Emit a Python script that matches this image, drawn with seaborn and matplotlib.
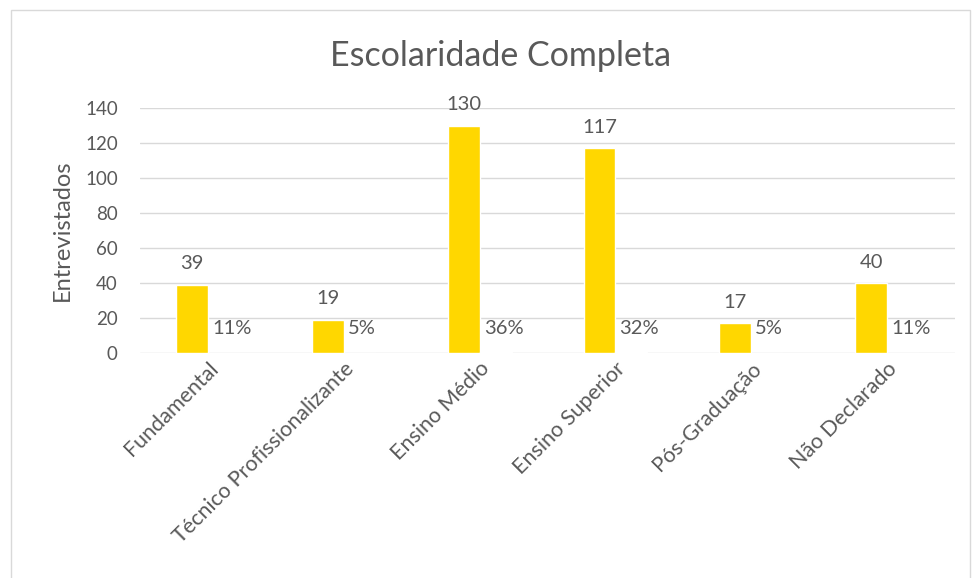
import pandas as pd
import matplotlib
matplotlib.use("Agg")
import matplotlib.pyplot as plt
from matplotlib.patches import Rectangle
import seaborn as sns

categorias = ['Fundamental', 'Técnico Profissionalizante', 'Ensino Médio',
              'Ensino Superior', 'Pós-Graduação', 'Não Declarado']
entrevistados = [39, 19, 130, 117, 17, 40]
percentuais = [0.11, 0.05, 0.36, 0.32, 0.05, 0.11]
rotulos_pct = ['11%', '5%', '36%', '32%', '5%', '11%']

sns.set_theme(style='white')
plt.rcParams['font.family'] = ['Lato', 'DejaVu Sans']

df = pd.DataFrame({
    'categoria': categorias * 2,
    'valor': entrevistados + percentuais,
    'serie': ['n'] * 6 + ['pct'] * 6,
})

fig = plt.figure(figsize=(9.77, 5.78), dpi=100)
ax = fig.add_axes([0.1433, 0.3893, 0.8342, 0.4238])

cinza = '#595959'
sns.barplot(data=df, x='categoria', y='valor', hue='serie', order=categorias,
            palette={'n': '#FFD700', 'pct': '#C9C9E8'}, width=0.47,
            saturation=1, ax=ax, legend=False)

ax.set_ylim(0, 140)
ax.set_xlim(-0.5, 5.5)
ax.set_yticks(range(0, 141, 20))
ax.yaxis.grid(True, color='#D9D9D9', linewidth=1)
ax.set_axisbelow(True)
for s in ax.spines.values():
    s.set_visible(False)
ax.tick_params(axis='both', length=0, colors=cinza)
ax.tick_params(axis='y', pad=16, labelsize=13.5)
ax.tick_params(axis='x', pad=4, labelsize=15.5)
ax.set_xticks(range(len(categorias)))
ax.set_xticklabels(categorias, rotation=45, ha='right', rotation_mode='anchor')
ax.set_xlabel('')
ax.set_ylabel('Entrevistados', color=cinza, fontsize=17, labelpad=9)

barras_n = ax.containers[0]
barras_p = ax.containers[1]
for b, v in zip(barras_n, entrevistados):
    ax.text(b.get_x() + b.get_width() / 2, v + 7, str(v), ha='center',
            va='bottom', color=cinza, fontsize=14.5)
for b, t in zip(barras_p, rotulos_pct):
    ax.text(b.get_x() + 0.03, 14, t, ha='left', va='center',
            color=cinza, fontsize=14.5)

fig.text(0.512, 0.903, 'Escolaridade Completa', ha='center', va='center',
         color=cinza, fontsize=24.5)

fig.patches.append(Rectangle((0.011, -0.01), 0.982, 0.993, transform=fig.transFigure,
                             fill=False, edgecolor='#D9D9D9', linewidth=1))

fig.savefig('out.png', dpi=100)
